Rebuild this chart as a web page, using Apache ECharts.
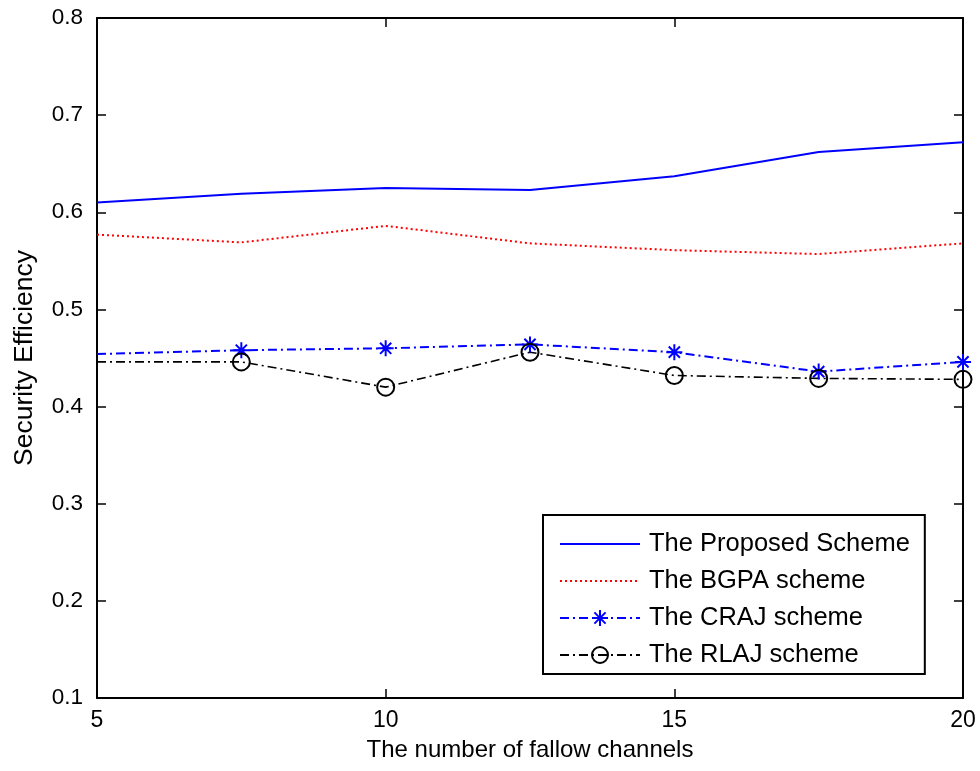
<!DOCTYPE html>
<html>
<head>
<meta charset="utf-8">
<script src="https://cdn.jsdelivr.net/npm/echarts@6/dist/echarts.min.js"></script>
<style>
html,body{margin:0;padding:0;background:#fff;}
#chart{width:980px;height:771px;}
</style>
</head>
<body>
<div id="chart"></div>
<script>
// Data
var channels = [5, 7.5, 10, 12.5, 15, 17.5, 20];
var proposed = [0.610, 0.619, 0.625, 0.623, 0.637, 0.662, 0.672];
var bgpa     = [0.577, 0.569, 0.586, 0.568, 0.561, 0.557, 0.568];
var craj     = [0.454, 0.458, 0.460, 0.464, 0.456, 0.436, 0.446];
var rlaj     = [0.446, 0.446, 0.420, 0.456, 0.432, 0.429, 0.428];
var seriesNames = ['The Proposed Scheme', 'The BGPA scheme', 'The CRAJ scheme', 'The RLAJ scheme'];
var xTitle = 'The number of fallow channels';
var yTitle = 'Security Efficiency';

function pairs(vals, hideFirstMarker) {
  return channels.map(function (x, i) {
    if (hideFirstMarker && i === 0) return { value: [x, vals[i]], symbol: 'none' };
    return [x, vals[i]];
  });
}

var FONT = '"Liberation Sans", Arial, Helvetica, sans-serif';
var starPath = 'path://M0,-10L0,10M-10,0L10,0M-7,-7L7,7M-7,7L7,-7';
var dashDot = [9, 4, 2, 4];

var chart = echarts.init(document.getElementById('chart'), null, { renderer: 'canvas' });
var axisLine = { show: true, lineStyle: { color: '#000', width: 2 } };
var tick = { show: true, inside: true, length: 9, lineStyle: { color: '#000', width: 1.5 } };

chart.setOption({
  animation: false,
  backgroundColor: '#fff',
  grid: { left: 97, right: 17, top: 18, bottom: 73, containLabel: false },
  xAxis: [{
    type: 'value', min: 5, max: 20, interval: 5, position: 'bottom',
    axisLine: axisLine, axisTick: tick, splitLine: { show: false },
    axisLabel: { color: '#000', fontSize: 23, fontFamily: FONT, margin: 11 },
    name: xTitle, nameLocation: 'middle', nameGap: 40,
    nameTextStyle: { color: '#000', fontSize: 24, fontFamily: FONT }
  }, {
    type: 'value', min: 5, max: 20, interval: 5, position: 'top',
    axisLine: axisLine, axisTick: tick, splitLine: { show: false }, axisLabel: { show: false }
  }],
  yAxis: [{
    type: 'value', min: 0.1, max: 0.8, interval: 0.1, position: 'left',
    axisLine: axisLine, axisTick: tick, splitLine: { show: false },
    axisLabel: { color: '#000', fontSize: 22.5, fontFamily: FONT, margin: 14,
      formatter: function (v) { return v.toFixed(1); } },
    name: yTitle, nameLocation: 'middle', nameGap: 59, nameRotate: 90,
    nameTextStyle: { color: '#000', fontSize: 26.5, fontFamily: FONT }
  }, {
    type: 'value', min: 0.1, max: 0.8, interval: 0.1, position: 'right',
    axisLine: axisLine, axisTick: tick, splitLine: { show: false }, axisLabel: { show: false }
  }],
  legend: {
    orient: 'vertical', left: 543, top: 515,
    backgroundColor: '#fff', borderColor: '#000', borderWidth: 2,
    padding: [14, 15, 4, 16], itemGap: 7, itemWidth: 80, itemHeight: 20,
    textStyle: { color: '#000', fontSize: 25.5, fontFamily: FONT, lineHeight: 30, padding: [0, 0, 0, 4] },
    data: seriesNames
  },
  series: [{
    name: seriesNames[0], type: 'line', data: pairs(proposed, false),
    showSymbol: false, symbol: 'none',
    lineStyle: { color: '#0000ff', width: 2, type: 'solid' }, itemStyle: { color: 'rgba(0,0,0,0)' }
  }, {
    name: seriesNames[1], type: 'line', data: pairs(bgpa, false),
    showSymbol: false, symbol: 'none',
    lineStyle: { color: '#ff0000', width: 2, type: [2, 3] }, itemStyle: { color: 'rgba(0,0,0,0)' }
  }, {
    name: seriesNames[2], type: 'line', data: pairs(craj, true),
    symbol: starPath, symbolSize: 16, showAllSymbol: true,
    lineStyle: { color: '#0000ff', width: 2, type: dashDot },
    itemStyle: { color: 'none', borderColor: '#0000ff', borderWidth: 2 }
  }, {
    name: seriesNames[3], type: 'line', data: pairs(rlaj, true),
    symbol: 'circle', symbolSize: 17, showAllSymbol: true,
    lineStyle: { color: '#000', width: 1.6, type: dashDot },
    itemStyle: { color: 'none', borderColor: '#000', borderWidth: 2 }
  }]
});
</script>
</body>
</html>
